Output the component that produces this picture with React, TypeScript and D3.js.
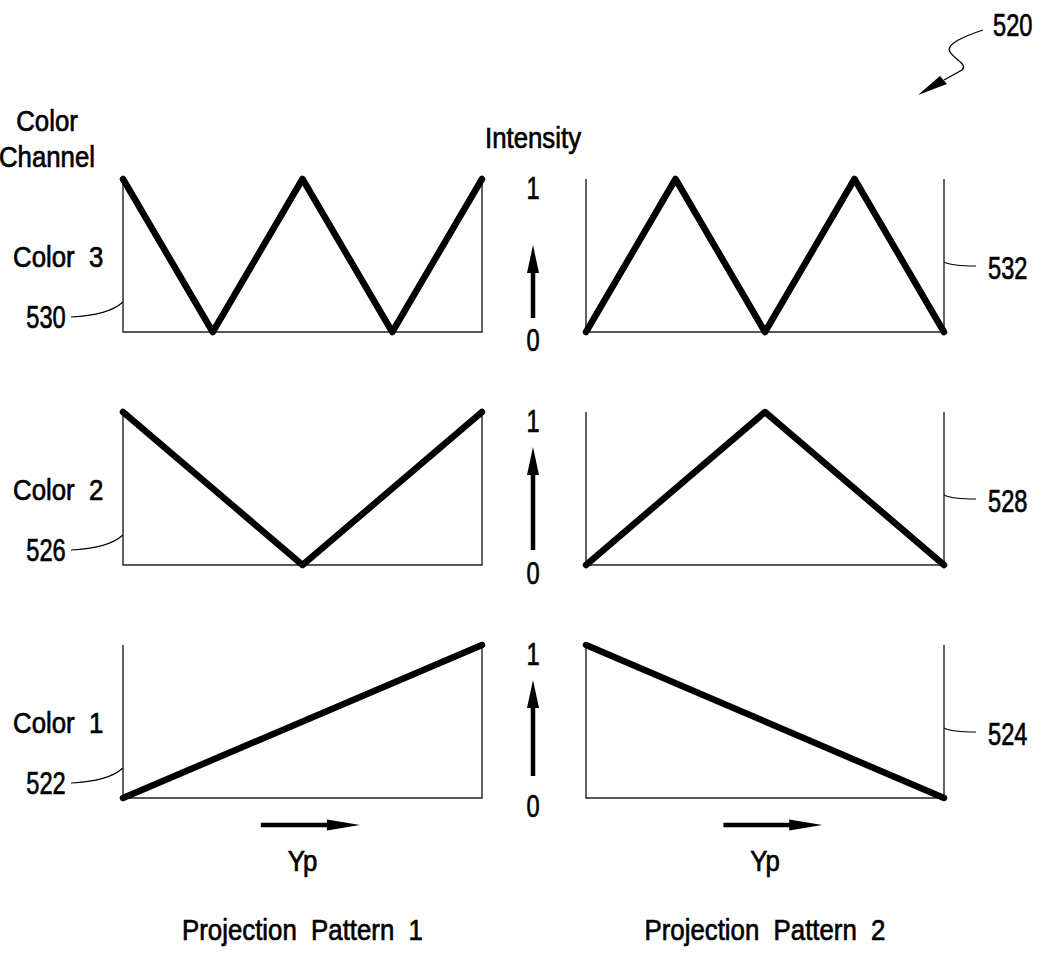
import * as d3 from 'd3';

// x positions along Yp (0..1) and intensities for every channel
const xs5 = [0, 0.25, 0.5, 0.75, 1];
const xs3 = [0, 0.5, 1];
const xs2 = [0, 1];

const pattern1Color3 = [1, 0, 1, 0, 1];
const pattern1Color2 = [1, 0, 1];
const pattern1Color1 = [0, 1];
const pattern2Color3 = [0, 1, 0, 1, 0];
const pattern2Color2 = [0, 1, 0];
const pattern2Color1 = [1, 0];

const channelLabels = ['Color  3', 'Color  2', 'Color  1'];
const leftRefs = ['530', '526', '522'];
const rightRefs = ['532', '528', '524'];
const patternLabels = ['Projection  Pattern  1', 'Projection  Pattern  2'];

const W = 1041, H = 953;
const FONT = '"Liberation Sans", Arial, sans-serif';

const rowTops = [179, 412, 645];
const PH = 153;
const cols = [
  { x0: 123, x1: 482 },
  { x0: 586, x1: 944 },
];
// vertical arrow (tip, tail) offsets from the panel top, per row
const arrowOffsets = [[66, 139], [35, 138], [35, 131]];

const panels = [
  [
    { xs: xs5, ys: pattern1Color3 },
    { xs: xs3, ys: pattern1Color2 },
    { xs: xs2, ys: pattern1Color1 },
  ],
  [
    { xs: xs5, ys: pattern2Color3 },
    { xs: xs3, ys: pattern2Color2 },
    { xs: xs2, ys: pattern2Color1 },
  ],
];

// drafting-style lettering: a regular sans squeezed horizontally, a bit heavier
function Txt({ x, y, children, anchor = 'start', num = false }: { x: number; y: number; children: string; anchor?: string; num?: boolean }) {
  const size = num ? 32 : 30;
  const sx = num ? 0.74 : 0.86;
  return (
    <text
      transform={`translate(${x},${y}) scale(${sx},1)`}
      fontFamily={FONT}
      fontSize={size}
      textAnchor={anchor}
      fill="#000"
      stroke="#000"
      strokeWidth={0.7}
      style={{ whiteSpace: 'pre' }}
    >
      {children}
    </text>
  );
}

function Panel({ col, row, xs, ys }: { col: number; row: number; xs: number[]; ys: number[] }) {
  const { x0, x1 } = cols[col];
  const top = rowTops[row];
  const bottom = top + PH;
  const x = d3.scaleLinear().domain([0, 1]).range([x0, x1]);
  const y = d3.scaleLinear().domain([0, 1]).range([bottom, top]);
  const line = d3.line<number>().x((_, i) => x(xs[i])).y((d) => y(d));
  const frame = `M${x(0)},${y(1)}V${y(0)}H${x(1)}V${y(1)}`;
  return (
    <g>
      <path d={frame} fill="none" stroke="#222" strokeWidth={1.4} />
      <path d={line(ys) ?? ''} fill="none" stroke="#000" strokeWidth={6.5} strokeLinecap="round" strokeLinejoin="round" />
    </g>
  );
}

function UpArrow({ x, tip, tail }: { x: number; tip: number; tail: number }) {
  const headL = 28, headW = 6;
  return (
    <g>
      <line x1={x} x2={x} y1={tail} y2={tip + headL - 2} stroke="#000" strokeWidth={4.5} />
      <path d={`M${x},${tip}L${x - headW},${tip + headL}L${x + headW},${tip + headL}Z`} fill="#000" />
    </g>
  );
}

function RightArrow({ x0, x1, y }: { x0: number; x1: number; y: number }) {
  const headL = 33, headW = 5.5;
  return (
    <g>
      <line x1={x0} x2={x1 - headL + 2} y1={y} y2={y} stroke="#000" strokeWidth={4.5} />
      <path d={`M${x1},${y}L${x1 - headL},${y - headW}L${x1 - headL},${y + headW}Z`} fill="#000" />
    </g>
  );
}

export default function App() {
  const midX = 533;
  return (
    <svg width={W} height={H} style={{ position: 'absolute', left: 0, top: 0, background: '#fff' }}>
      <rect width={W} height={H} fill="#fff" />

      {/* figure number with squiggly leader */}
      <Txt x={993} y={36} num>520</Txt>
      <path d="M983,30 C965,36 945,44 950,52 C955,60 968,64 962,70 L944,80" fill="none" stroke="#000" strokeWidth={1.3} />
      <path d="M918,95 L940,76 L947,84 Z" fill="#000" />

      <Txt x={47} y={131} anchor="middle">Color</Txt>
      <Txt x={47} y={167} anchor="middle">Channel</Txt>
      <Txt x={midX} y={148} anchor="middle">Intensity</Txt>

      {panels.map((col, ci) =>
        col.map((p, ri) => <Panel key={`${ci}-${ri}`} col={ci} row={ri} xs={p.xs} ys={p.ys} />)
      )}

      {rowTops.map((top, i) => (
        <g key={i}>
          <Txt x={13} y={top + 88}>{channelLabels[i]}</Txt>
          <Txt x={46} y={top + 149} anchor="middle" num>{leftRefs[i]}</Txt>
          <path d={`M71,${top + 138} C95,${top + 137} 113,${top + 132} 123,${top + 123}`} fill="none" stroke="#000" strokeWidth={1.2} />
          <Txt x={988} y={top + 100} num>{rightRefs[i]}</Txt>
          <path d={`M944,${top + 83} C952,${top + 87} 965,${top + 87} 976,${top + 87}`} fill="none" stroke="#000" strokeWidth={1.2} />
          <Txt x={midX} y={top + 20} anchor="middle" num>1</Txt>
          <Txt x={midX} y={top + PH + 19} anchor="middle" num>0</Txt>
          <UpArrow x={midX} tip={top + arrowOffsets[i][0]} tail={top + arrowOffsets[i][1]} />
        </g>
      ))}

      {cols.map((c, i) => {
        const x = d3.scaleLinear().domain([0, 1]).range([c.x0, c.x1]);
        return (
          <g key={i}>
            <RightArrow x0={x(0.384)} x1={x(0.66)} y={825} />
            <Txt x={x(0.5)} y={871} anchor="middle">Yp</Txt>
            <Txt x={x(0.5)} y={940} anchor="middle">{patternLabels[i]}</Txt>
          </g>
        );
      })}
    </svg>
  );
}
